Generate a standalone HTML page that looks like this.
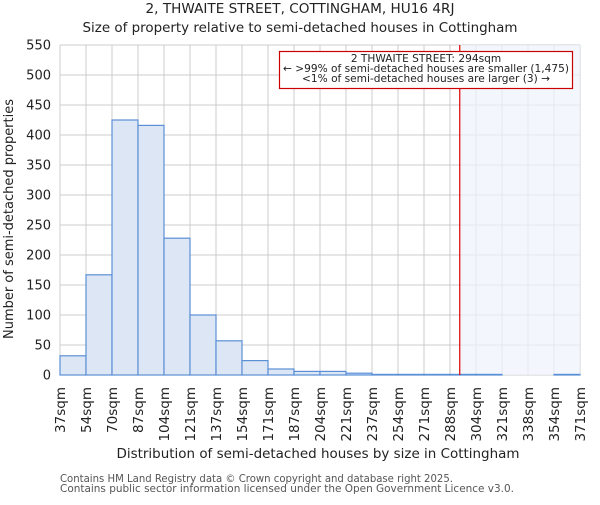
<!DOCTYPE html>
<html><head><meta charset="utf-8"><style>
body{margin:0;background:#fff;}
svg text{font-family:"DejaVu Sans","Liberation Sans",sans-serif;fill:#222;}
</style></head><body>
<svg id="chart" width="600" height="500" viewBox="0 0 600 500" xmlns="http://www.w3.org/2000/svg">
<text x="300" y="13" font-size="13.5" text-anchor="middle" textLength="309" lengthAdjust="spacingAndGlyphs">2, THWAITE STREET, COTTINGHAM, HU16 4RJ</text>
<text x="300" y="32" font-size="13.5" text-anchor="middle" textLength="435" lengthAdjust="spacingAndGlyphs">Size of property relative to semi-detached houses in Cottingham</text>
<g id="grid"></g>
<rect id="hl" y="45" height="330" fill="#eef3fc" opacity="0.7"></rect>
<g id="bars"></g>
<g id="yticks"></g>
<g id="xticks"></g>
<line id="marker" y1="45" y2="375" stroke="#dd0000" stroke-width="1.2"></line>
<text transform="translate(13,219) rotate(-90)" font-size="13" text-anchor="middle" textLength="240" lengthAdjust="spacingAndGlyphs">Number of semi-detached properties</text>
<text x="318" y="458" font-size="13.5" text-anchor="middle" textLength="403" lengthAdjust="spacingAndGlyphs">Distribution of semi-detached houses by size in Cottingham</text>
<g>
<rect x="279.5" y="51.5" width="293" height="37" fill="#fff" stroke="#cc0000" stroke-width="1.2"></rect>
<text x="426" y="62" font-size="10.6" text-anchor="middle">2 THWAITE STREET: 294sqm</text>
<text x="426" y="72" font-size="10.6" text-anchor="middle" textLength="286" lengthAdjust="spacingAndGlyphs">← &gt;99% of semi-detached houses are smaller (1,475)</text>
<text x="426" y="82" font-size="10.6" text-anchor="middle">&lt;1% of semi-detached houses are larger (3) →</text>
</g>
<text x="60" y="482" font-size="10.5" style="fill:#555" textLength="393" lengthAdjust="spacingAndGlyphs">Contains HM Land Registry data © Crown copyright and database right 2025.</text>
<text x="60" y="492" font-size="10.5" style="fill:#555" textLength="454" lengthAdjust="spacingAndGlyphs">Contains public sector information licensed under the Open Government Licence v3.0.</text>
</svg>
<script>
const binLabels=["37sqm","54sqm","70sqm","87sqm","104sqm","121sqm","137sqm","154sqm","171sqm","187sqm","204sqm","221sqm","237sqm","254sqm","271sqm","288sqm","304sqm","321sqm","338sqm","354sqm","371sqm"];
const counts=[32,167,425,416,228,100,57,24,10,6,6,3,1,1,1,1,1,0,0,1];
const yTicks=[0,50,100,150,200,250,300,350,400,450,500,550];
const binStarts=[37,54,70,87,104,121,137,154,171,187,204,221,237,254,271,288,304,321,338,354,371];
const propertySize=294;
const L=60,R=580,T=45,B=375,yMax=550;
const ns="http://www.w3.org/2000/svg";
const nb=counts.length,bw=(R-L)/nb;
const xi=i=>L+i*bw;
const y=v=>B-v/yMax*(B-T);
function xs(s){for(let i=0;i<binStarts.length-1;i++){if(s<=binStarts[i+1])return xi(i)+(s-binStarts[i])/(binStarts[i+1]-binStarts[i])*bw;}return R;}
function mk(t,a,p){const e=document.createElementNS(ns,t);for(const k in a)e.setAttribute(k,a[k]);p.appendChild(e);return e;}
const grid=document.getElementById('grid'),bars=document.getElementById('bars'),yt=document.getElementById('yticks'),xt=document.getElementById('xticks');
yTicks.forEach(v=>{const l=mk('line',{x1:L,x2:R,y1:y(v),y2:y(v),stroke:'#cccccc','stroke-width':1},grid);


const t=mk('text',{x:L-9,y:y(v)+4.5,'font-size':13,'text-anchor':'end'},yt);t.textContent=v;

});
binLabels.forEach((s,i)=>{const x=xi(i);const l=mk('line',{x1:x,x2:x,y1:T,y2:B,stroke:'#cccccc','stroke-width':1},grid);


const t=mk('text',{transform:`translate(${x+5},${B+12}) rotate(-90)`,'font-size':13.5,'text-anchor':'end'},xt);t.textContent=s;

});
counts.forEach((c,i)=>{if(c<=0)return;const r=mk('rect',{x:xi(i),y:y(c),width:bw,height:B-y(c),fill:'#dce6f4',stroke:'#5b8fd6','stroke-width':1.2},bars);

});
const mx=xs(propertySize);
const hl=document.getElementById('hl');hl.setAttribute('x',mx);hl.setAttribute('width',R-mx);
const m=document.getElementById('marker');m.setAttribute('x1',mx);m.setAttribute('x2',mx);
</script>
</body></html>
